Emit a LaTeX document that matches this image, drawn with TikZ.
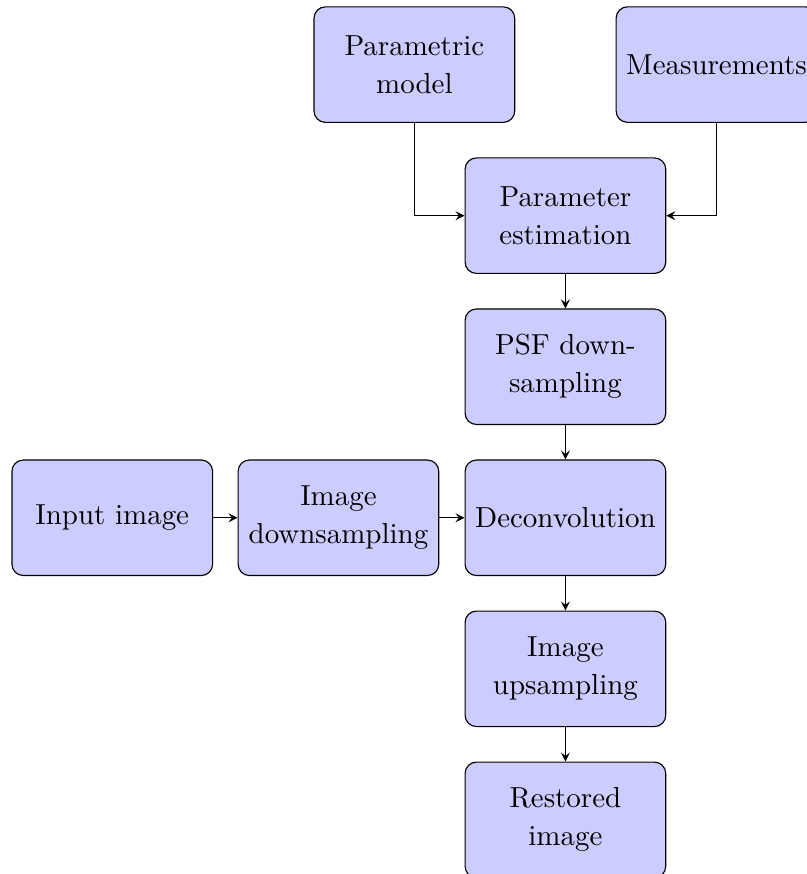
\documentclass[tikz,border=0pt]{standalone}
\usetikzlibrary{calc}
\usepackage{amsmath,amssymb}

\begin{document}
\begin{tikzpicture}[>=stealth,
	]

	\tikzset{block/.style={
				rectangle,draw,fill=blue!20,
				font=\fontsize{10.2}{13.4}\selectfont,
				text width=2.25cm,align=center,
				rounded corners,minimum height=1.43cm}
	}
	\tikzset{flow/.style={draw,->}}

	\useasboundingbox (-7.0,-4.41) rectangle (2.98,6.41);

	\node[block] (pm) at (-1.87,5.61) {Parametric model};
	\node[block] (meas) at (1.87,5.61) {Measurements};

	\node[block] (pe) at (0,3.74) {Parameter estimation};
	\draw[flow] (pm) |- (pe);
	\draw[flow] (meas) |- (pe);

	\node[block] (psf) at (0,1.87) {PSF down-\\sampling};
	\draw[flow] (pe) -- (psf);

	\node[block] (inp) at (-5.61,0) {Input image};
	\node[block] (down) at (-2.81,0) {Image downsampling};
	\draw[flow] (inp) -- (down);

	\node[block] (deconv) at (0,0) {Deconvolution};
	\draw[flow] (down) -- (deconv);
	\draw[flow] (psf) -- (deconv);

	\node[block] (up) at (0,-1.87) {Image upsampling};
	\draw[flow] (deconv) -- (up);

	\node[block] (rest) at (0,-3.74) {Restored image};
	\draw[flow] (up) -- (rest);

\end{tikzpicture}
\end{document}
